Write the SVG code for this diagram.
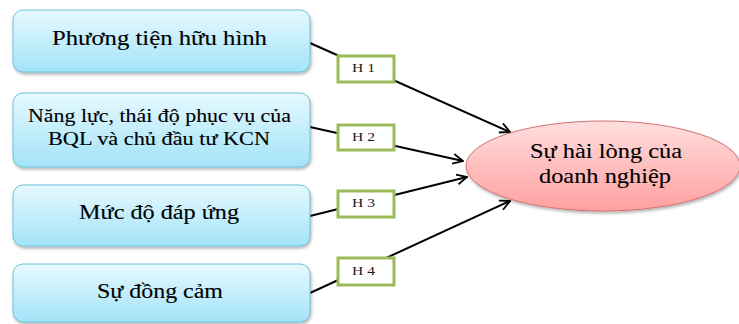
<svg xmlns="http://www.w3.org/2000/svg" width="739" height="324" viewBox="0 0 739 324">
<defs>
<linearGradient id="gBlue" x1="0" y1="0" x2="0" y2="1">
<stop offset="0" stop-color="#E6F9FF"/>
<stop offset="1" stop-color="#A3E3F8"/>
</linearGradient>
<linearGradient id="gPink" x1="0" y1="0" x2="0" y2="1">
<stop offset="0" stop-color="#FFDEDE"/>
<stop offset="1" stop-color="#FFA0A0"/>
</linearGradient>
<filter id="sh" x="-10%" y="-10%" width="120%" height="130%">
<feDropShadow dx="1" dy="2" stdDeviation="1.5" flood-color="#000" flood-opacity="0.3"/>
</filter>
<marker id="arr" viewBox="0 0 12 12" refX="11" refY="6" markerWidth="12" markerHeight="12" markerUnits="userSpaceOnUse" orient="auto">
<path d="M1,1 L11,6 L1,11" fill="none" stroke="#000" stroke-width="1.8"/>
</marker>
</defs>
<style>
.box{fill:url(#gBlue);stroke:#6CC2DC;stroke-width:1;filter:url(#sh)}
.t{fill:#000;stroke:#000;stroke-width:0.12}
.lbl{fill:#fff;stroke:#9BBB59;stroke-width:3}
.h{font-size:13px;fill:#1a1a1a}
.con{stroke:#000;stroke-width:2;fill:none;marker-end:url(#arr)}
</style>
<rect width="739" height="324" fill="#fff"/>
<g id="connectors">
<line class="con" x1="310" y1="43" x2="510" y2="132"/>
<line class="con" x1="310" y1="127" x2="463" y2="161"/>
<line class="con" x1="310" y1="216" x2="467" y2="177"/>
<line class="con" x1="310" y1="293" x2="510" y2="201"/>
</g>
<g font-family="Liberation Serif, DejaVu Serif, serif">
<g id="n1">
<rect class="box" x="13" y="10" width="297" height="62" rx="10"/>
<text class="t" x="52" y="45" font-size="20" textLength="215" lengthAdjust="spacingAndGlyphs">Phương tiện hữu hình</text>
</g>
<g id="n2">
<rect class="box" x="13" y="93" width="297" height="74" rx="10"/>
<text class="t" x="28" y="122" font-size="18" textLength="263" lengthAdjust="spacingAndGlyphs">Năng lực, thái độ phục vụ của</text>
<text class="t" x="48" y="145" font-size="18" textLength="222" lengthAdjust="spacingAndGlyphs">BQL và chủ đầu tư KCN</text>
</g>
<g id="n3">
<rect class="box" x="13" y="185" width="297" height="61" rx="10"/>
<text class="t" x="79" y="219" font-size="20" textLength="160" lengthAdjust="spacingAndGlyphs">Mức độ đáp ứng</text>
</g>
<g id="n4">
<rect class="box" x="13" y="264" width="297" height="58" rx="10"/>
<text class="t" x="97" y="298" font-size="20" textLength="126" lengthAdjust="spacingAndGlyphs">Sự đồng cảm</text>
</g>
<g id="target">
<ellipse cx="603" cy="166" rx="137" ry="45" fill="url(#gPink)" stroke="#D27272" stroke-width="1" filter="url(#sh)"/>
<text class="t" x="530" y="158" font-size="22" textLength="152" lengthAdjust="spacingAndGlyphs">Sự hài lòng của</text>
<text class="t" x="539" y="183" font-size="22" textLength="132" lengthAdjust="spacingAndGlyphs">doanh nghiệp</text>
</g>
<g id="h1">
<rect class="lbl" x="338" y="56" width="56" height="26"/>
<text class="h" x="352" y="72" textLength="23" lengthAdjust="spacingAndGlyphs">H 1</text>
</g>
<g id="h2">
<rect class="lbl" x="338" y="125" width="56" height="25"/>
<text class="h" x="352" y="141" textLength="23" lengthAdjust="spacingAndGlyphs">H 2</text>
</g>
<g id="h3">
<rect class="lbl" x="338" y="191" width="56" height="26"/>
<text class="h" x="352" y="207" textLength="23" lengthAdjust="spacingAndGlyphs">H 3</text>
</g>
<g id="h4">
<rect class="lbl" x="338" y="258" width="56" height="27"/>
<text class="h" x="352" y="275" textLength="23" lengthAdjust="spacingAndGlyphs">H 4</text>
</g>
</g>
</svg>
